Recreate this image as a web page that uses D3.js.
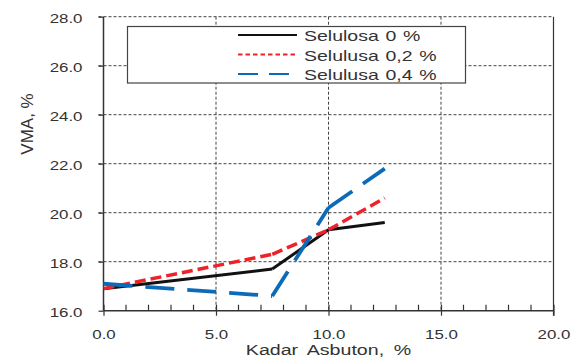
<!DOCTYPE html>
<html>
<head>
<meta charset="utf-8">
<script src="https://cdn.jsdelivr.net/npm/d3@7"></script>
<style>
  body { margin: 0; background: #fff; }
  text { font-family: "Liberation Sans", Arial, sans-serif; fill: #333; }
</style>
</head>
<body>
<div id="chart_div"></div>
<script>
// data
kadar = [0, 7.5, 10, 12.5];
sel_0 = [16.9, 17.7, 19.3, 19.6];
sel_02 = [16.9, 18.3, 19.3, 20.6];
sel_04 = [17.1, 16.6, 20.2, 21.8];
series_names = ['Selulosa 0 %', 'Selulusa 0,2 %', 'Selulusa 0,4 %'];
x_ticks = [0, 5, 10, 15, 20];
y_ticks = [16, 18, 20, 22, 24, 26, 28];

chart_w = 572;
chart_h = 363;
left = 103.5;
right = 553.5;
top_ = 16.7;
bottom = 310.7;

// the original picture is squeezed, text is wider than normal
function stretch(sel, k) {
  sel.each(function () {
    var w = this.getComputedTextLength();
    d3.select(this)
      .attr('textLength', w * k)
      .attr('lengthAdjust', 'spacingAndGlyphs');
  });
}

x = d3.scaleLinear().domain([0, 20]).range([left, right]);
y = d3.scaleLinear().domain([16, 28]).range([bottom, top_]);

svg = d3.select('#chart_div')
  .append('svg')
  .attr('width', chart_w)
  .attr('height', chart_h)
  .attr('display', 'block');

// grid lines
svg.append('g')
  .selectAll('line')
  .data(y_ticks.slice(1))
  .enter()
  .append('line')
  .attr('x1', left - 5)
  .attr('x2', right)
  .attr('y1', d => y(d))
  .attr('y2', d => y(d))
  .attr('stroke', '#444')
  .attr('stroke-width', 1)
  .attr('stroke-dasharray', '3,2');

svg.append('g')
  .selectAll('line')
  .data([5, 10, 15])
  .enter()
  .append('line')
  .attr('x1', d => x(d))
  .attr('x2', d => x(d))
  .attr('y1', top_)
  .attr('y2', bottom)
  .attr('stroke', '#444')
  .attr('stroke-width', 1)
  .attr('stroke-dasharray', '3,2');

// right border
svg.append('line')
  .attr('x1', right).attr('x2', right)
  .attr('y1', top_).attr('y2', bottom + 5)
  .attr('stroke', '#333').attr('stroke-width', 1.2);

// minor x ticks
svg.append('g')
  .selectAll('line')
  .data(d3.range(0, 21).filter(d => d % 5 != 0))
  .enter()
  .append('line')
  .attr('x1', d => x(d))
  .attr('x2', d => x(d))
  .attr('y1', bottom - 6)
  .attr('y2', bottom)
  .attr('stroke', '#333')
  .attr('stroke-width', 1.2);

// axes
xAxis = d3.axisBottom(x).tickValues(x_ticks).tickFormat(d3.format('.1f')).tickSize(5).tickPadding(14);
yAxis = d3.axisLeft(y).tickValues(y_ticks).tickFormat(d3.format('.1f')).tickSize(5).tickPadding(16);

gx = svg.append('g').attr('transform', 'translate(0,' + bottom + ')').call(xAxis);
gy = svg.append('g').attr('transform', 'translate(' + left + ',0)').call(yAxis);
[gx, gy].forEach(function (g) {
  g.select('.domain').attr('stroke', '#333').attr('stroke-width', 1.5);
  g.selectAll('.tick line').attr('stroke', '#333').attr('stroke-width', 1.2);
  g.selectAll('.tick text')
    .attr('font-size', 12.5)
    .attr('font-family', '"Liberation Sans", Arial, sans-serif')
    .attr('fill', '#333')
    .call(stretch, 1.35);
});
gx.select('.domain').attr('d', 'M' + left + ',0H' + right);
gy.select('.domain').attr('d', 'M0,' + bottom + 'V' + top_);
gy.selectAll('.tick text').attr('dy', '0.5em');
// major x ticks cross the axis
gx.selectAll('.tick line').attr('y1', -6).attr('y2', 5);

// series lines, every segment dashed on its own like the original
line = d3.line()
  .x(d => x(d[0]))
  .y(d => y(d[1]));

all_series = [
  {vals: sel_0, color: '#111', dash: null, w: 3},
  {vals: sel_02, color: '#ee2228', dash: '11,5', w: 3.5},
  {vals: sel_04, color: '#0b6bb8', dash: '29,13', w: 3.8}
];

all_series.forEach(function (s) {
  var pts = kadar.map((k, i) => [k, s.vals[i]]);
  svg.append('g')
    .selectAll('path')
    .data(d3.pairs(pts))
    .enter()
    .append('path')
    .attr('d', d => line(d))
    .attr('fill', 'none')
    .attr('stroke', s.color)
    .attr('stroke-width', s.w)
    .attr('stroke-linejoin', 'round')
    .attr('stroke-dasharray', s.dash);
});

// legend
leg = svg.append('g');
leg.append('rect')
  .attr('x', 127.5)
  .attr('y', 26.5)
  .attr('width', 338)
  .attr('height', 56.5)
  .attr('fill', '#fff')
  .attr('stroke', '#444')
  .attr('stroke-width', 1.2);

leg_rows = [35, 54.5, 74];
all_series.forEach(function (s, i) {
  leg.append('line')
    .attr('x1', 238)
    .attr('x2', 297)
    .attr('y1', leg_rows[i])
    .attr('y2', leg_rows[i])
    .attr('stroke', s.color)
    .attr('stroke-width', 2)
    .attr('stroke-dasharray', i == 1 ? '4.5,3' : (i == 2 ? '20,11' : null));
  leg.append('text')
    .attr('x', 304)
    .attr('y', leg_rows[i] + 6)
    .attr('font-size', 15)
    .attr('word-spacing', 1)
    .text(series_names[i])
    .call(stretch, 1.3);
});

// axis titles
svg.append('text')
  .attr('x', (left + right) / 2)
  .attr('y', 355)
  .attr('text-anchor', 'middle')
  .attr('font-size', 14)
  .attr('word-spacing', 3)
  .text('Kadar Asbuton, %')
  .call(stretch, 1.4);

svg.append('text')
  .attr('transform', 'translate(33,124) rotate(-90)')
  .attr('text-anchor', 'middle')
  .attr('font-size', 17)
  .text('VMA, %');
</script>
</body>
</html>
